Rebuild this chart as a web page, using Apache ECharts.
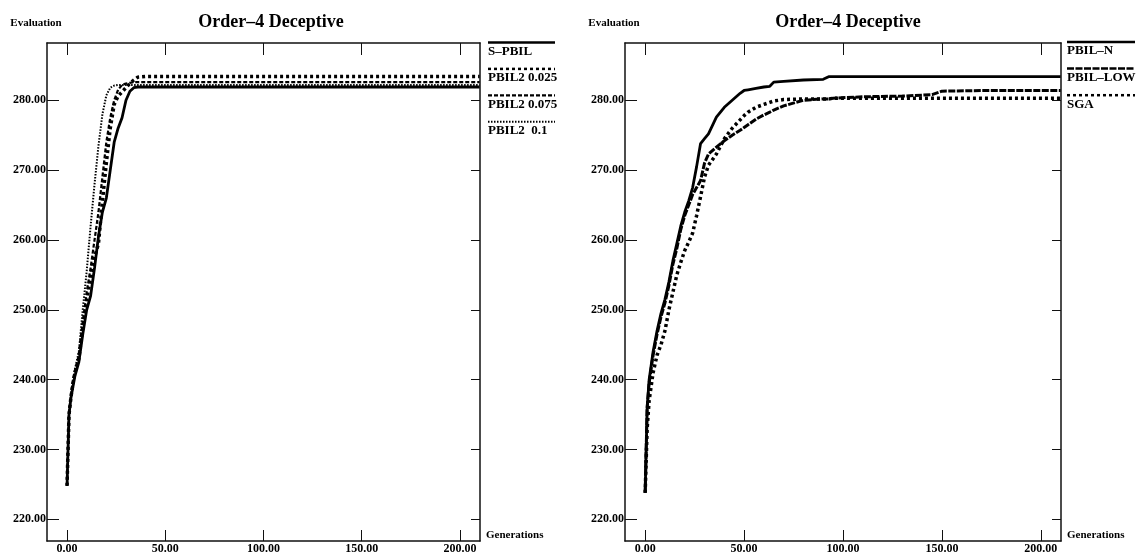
<!DOCTYPE html>
<html>
<head>
<meta charset="utf-8">
<script src="https://cdn.jsdelivr.net/npm/echarts@6/dist/echarts.min.js"></script>
<style>
  html, body { margin: 0; padding: 0; background: #fff; }
  #main { width: 1137px; height: 552px; }
</style>
</head>
<body>
<div id="main"></div>
<script>
// ---- data ----
const xTicks = [0, 50, 100, 150, 200];
const yTicks = [220, 230, 240, 250, 260, 270, 280];

// left panel
const leftGens = [0, 1, 2, 3, 4, 6, 8, 10, 12, 14, 16, 18, 20, 22, 24, 26, 28, 30, 32, 34, 36, 40, 50, 100, 150, 200, 210];
const sPbil   = [224.8, 235, 237.4, 239.0, 240.5, 242.5, 246.5, 250.0, 252.0, 256.0, 260.5, 264.0, 266.0, 270.0, 274.0, 276.0, 277.5, 280.0, 281.3, 281.8, 281.9, 281.9, 281.9, 281.9, 281.9, 281.9, 281.9];
const pbil2a  = [224.8, 235, 237.5, 239.5, 241.0, 243.0, 247.5, 251.5, 254.5, 257.5, 259.5, 265.5, 271.0, 276.0, 279.4, 280.6, 281.2, 281.8, 282.4, 282.9, 283.3, 283.4, 283.4, 283.4, 283.4, 283.4, 283.4];
const pbil2b  = [224.8, 235, 237.5, 239.5, 241.0, 243.5, 248.0, 252.5, 256.0, 260.0, 264.0, 269.0, 274.0, 277.5, 280.0, 281.5, 282.2, 282.4, 282.5, 282.6, 282.6, 282.6, 282.6, 282.6, 282.6, 282.6, 282.6];
const pbil2c  = [224.8, 235.5, 238.0, 240.0, 241.5, 244.0, 250.0, 255.5, 262.0, 268.0, 273.5, 278.0, 280.7, 281.8, 282.1, 282.2, 282.2, 282.2, 282.2, 282.2, 282.2, 282.2, 282.2, 282.2, 282.2, 282.2, 282.2];
const leftNames = ['S\u2013PBIL', 'PBIL2 0.025', 'PBIL2 0.075', 'PBIL2  0.1'];

// right panel
const rightGens = [0, 1, 2, 4, 6, 8, 10, 12, 14, 16, 18, 20, 22, 24, 26, 28, 30, 32, 36, 40, 44, 48, 50, 52, 56, 60, 63, 65, 70, 80, 90, 93, 95, 110, 130, 145, 150, 170, 210];
const pbilN   = [223.8, 236, 240, 244, 247, 249.5, 251.5, 254, 257, 259.5, 262, 264, 265.6, 267.5, 270.5, 273.8, 274.5, 275.2, 277.6, 279, 280, 281, 281.4, 281.5, 281.7, 281.9, 282.0, 282.6, 282.7, 282.9, 283.0, 283.4, 283.4, 283.4, 283.4, 283.4, 283.4, 283.4, 283.4];
const pbilLow = [223.8, 236, 239.5, 243.5, 246.5, 249, 251, 253.5, 256.5, 258.8, 261.5, 263.5, 265, 266.5, 267.5, 268.5, 271, 272.3, 273.3, 274.2, 275, 275.7, 276.1, 276.5, 277.3, 277.9, 278.3, 278.6, 279.2, 280, 280.2, 280.2, 280.3, 280.5, 280.6, 280.8, 281.3, 281.4, 281.4];
const sga     = [223.8, 233, 237, 241, 243.5, 245, 247, 250, 252.5, 255, 256.8, 258.5, 259.7, 261, 263.5, 266.2, 269, 270.7, 272.3, 274.5, 276, 277.2, 277.8, 278.3, 279, 279.4, 279.7, 279.9, 280.1, 280.2, 280.2, 280.2, 280.3, 280.3, 280.3, 280.3, 280.3, 280.3, 280.3];
const rightNames = ['PBIL\u2013N', 'PBIL\u2013LOW', 'SGA'];

// ---- styles ----
const FONT = '"Liberation Serif", "DejaVu Serif", serif';
const solidStyle = { color: '#000', width: 2.8, type: 'solid' };
const bigDots = { color: '#000', width: 3.5, type: [3, 3] };
const shortDash = { color: '#000', width: 2.2, type: [4, 2] };
const fineDots = { color: '#000', width: 2, type: [1.5, 1.5] };
const denseDash = { color: '#000', width: 3, type: [7, 1.5] };

const leftStyles = [solidStyle, bigDots, shortDash, fineDots];
const rightStyles = [solidStyle, denseDash, bigDots];

// fixed plot boxes, labels may hang outside them
const grids = [
  { left: 47, top: 43, width: 433, height: 498, outerBoundsMode: 'none', containLabel: false },
  { left: 625, top: 43, width: 436, height: 498, outerBoundsMode: 'none', containLabel: false }
];

function zip(gens, vals) {
  return gens.map((g, i) => [g, vals[i]]);
}

let xAxes = [];
let yAxes = [];
grids.forEach((g, i) => {
  const base = {
    gridIndex: i,
    type: 'value',
    min: -10.2,
    max: 210.2,
    splitLine: { show: false },
    axisLine: { onZero: false, lineStyle: { color: '#111', width: 1.5 } }
  };
  xAxes.push(Object.assign({}, base, {
    position: 'bottom',
    name: 'Generations',
    nameLocation: 'end',
    nameGap: 6,
    nameTextStyle: { fontFamily: FONT, fontWeight: 'bold', fontSize: 11, color: '#000', align: 'left', verticalAlign: 'bottom' },
    axisTick: { inside: true, length: 11, customValues: xTicks, lineStyle: { color: '#111', width: 1 } },
    axisLabel: { customValues: xTicks, margin: 2, fontFamily: FONT, fontWeight: 'bold', fontSize: 12, color: '#000',
      formatter: v => v.toFixed(2) }
  }));
  xAxes.push(Object.assign({}, base, {
    position: 'top',
    axisTick: { inside: true, length: 12, customValues: xTicks, lineStyle: { color: '#111', width: 1 } },
    axisLabel: { show: false }
  }));
  const ybase = {
    gridIndex: i,
    type: 'value',
    min: 216.9,
    max: 288.2,
    splitLine: { show: false },
    axisLine: { onZero: false, lineStyle: { color: '#111', width: 1.5 } }
  };
  yAxes.push(Object.assign({}, ybase, {
    position: 'left',
    name: 'Evaluation',
    nameLocation: 'end',
    nameGap: 20,
    nameTextStyle: { fontFamily: FONT, fontWeight: 'bold', fontSize: 11, color: '#000', align: 'center', verticalAlign: 'middle', padding: [0, 22, 0, 0] },
    axisTick: { inside: true, length: 12, customValues: yTicks, lineStyle: { color: '#111', width: 1 } },
    axisLabel: { customValues: yTicks, margin: 1, fontFamily: FONT, fontWeight: 'bold', fontSize: 12, color: '#000',
      verticalAlign: 'middle', padding: [0, 0, 6, 0], formatter: v => v.toFixed(2) }
  }));
  yAxes.push(Object.assign({}, ybase, {
    position: 'right',
    axisTick: { inside: true, length: 9, customValues: yTicks, lineStyle: { color: '#111', width: 1 } },
    axisLabel: { show: false }
  }));
});

const leftSeries = [sPbil, pbil2a, pbil2b, pbil2c].map((vals, k) => ({
  name: leftNames[k],
  type: 'line',
  xAxisIndex: 0,
  yAxisIndex: 0,
  showSymbol: false,
  lineStyle: leftStyles[k],
  data: zip(leftGens, vals)
}));
const rightSeries = [pbilN, pbilLow, sga].map((vals, k) => ({
  name: rightNames[k],
  type: 'line',
  xAxisIndex: 2,
  yAxisIndex: 2,
  showSymbol: false,
  lineStyle: rightStyles[k],
  data: zip(rightGens, vals)
}));

// legend drawn as line above text, like the original
function legendBlock(names, styles, x, y0, step, w) {
  let els = [];
  names.forEach((n, k) => {
    const y = y0 + k * step;
    els.push({
      type: 'line',
      shape: { x1: x, y1: y, x2: x + w, y2: y },
      style: { stroke: '#000', lineWidth: Math.min(styles[k].width, 2.5),
        lineDash: styles[k].type === 'solid' ? null : styles[k].type }
    });
    els.push({
      type: 'text',
      x: x,
      y: y + 9,
      style: { text: n, font: 'bold 13px ' + FONT, fill: '#000', textVerticalAlign: 'middle' }
    });
  });
  return els;
}

const chart = echarts.init(document.getElementById('main'));
chart.setOption({
  animation: false,
  backgroundColor: '#fff',
  title: [
    { text: 'Order\u20134 Deceptive', left: 271, top: 13, textAlign: 'center', padding: 0,
      textStyle: { fontFamily: FONT, fontWeight: 'bold', fontSize: 18, color: '#000' } },
    { text: 'Order\u20134 Deceptive', left: 848, top: 13, textAlign: 'center', padding: 0,
      textStyle: { fontFamily: FONT, fontWeight: 'bold', fontSize: 18, color: '#000' } }
  ],
  grid: grids,
  xAxis: xAxes,
  yAxis: yAxes,
  series: leftSeries.concat(rightSeries),
  graphic: legendBlock(leftNames, leftStyles, 488, 42.5, 26.4, 67)
    .concat(legendBlock(rightNames, rightStyles, 1067, 42, 26.6, 68))
});
</script>
</body>
</html>
